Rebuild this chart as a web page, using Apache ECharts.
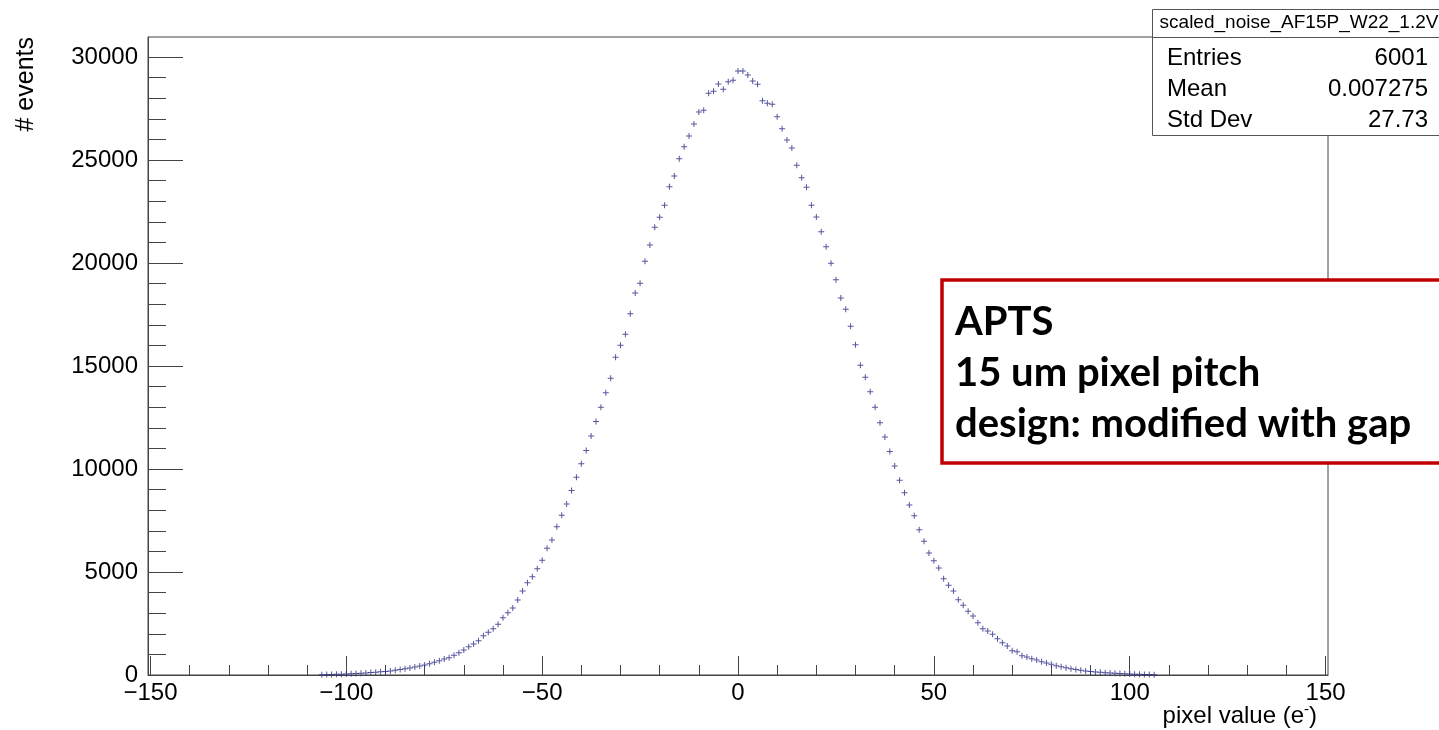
<!DOCTYPE html>
<html>
<head>
<meta charset="utf-8">
<script src="https://cdn.jsdelivr.net/npm/echarts@6/dist/echarts.min.js"></script>
<style>
  html, body { margin: 0; padding: 0; background: #ffffff; }
  #chart { width: 1439px; height: 730px; }
</style>
</head>
<body>
<div id="chart"></div>
<script>
// Histogram: pixel noise distribution, bins of 1.25 e- centred on multiples of 1.25
const histName = 'scaled_noise_AF15P_W22_1.2V';
const binWidth = 1.25;
const firstBinCenter = -106.25;
const counts = [
  15, 20, 25, 32, 40, 50, 60, 72, 85, 100,
  118, 138, 160, 175, 200, 228, 262, 300, 340, 388,
  437, 485, 550, 620, 690, 777, 841, 955, 1084, 1214,
  1375, 1505, 1665, 1909, 2071, 2249, 2459, 2781, 3024, 3252,
  3641, 4077, 4480, 4772, 5160, 5567, 6150, 6553, 7199, 7750,
  8300, 8950, 9600, 10250, 10900, 11600, 12300, 13000, 13700, 14402,
  15421, 16004, 16538, 17538, 18542, 19013, 20081, 20873, 21731, 22216,
  22799, 23703, 24221, 25063, 25645, 26164, 26746, 27328, 27409, 28234,
  28331, 28687, 28429, 28800, 28865,
  29318,
  29318, 29124, 28832, 28671, 27878, 27749, 27700, 27100, 26518, 25969,
  25581, 24741, 24140, 23673, 22799, 22231, 21518, 20790, 19983, 19188,
  18300, 17751, 16926, 16033, 15033, 14450, 13750, 13000, 12250, 11550,
  10850, 10150, 9450, 8850, 8250, 7733, 7053, 6490, 5922, 5548,
  5194, 4675, 4354, 4077, 3655, 3383, 3092, 2864, 2539, 2249,
  2136, 1976, 1762, 1568, 1408, 1180, 1131, 937, 874, 791,
  728, 646, 582, 518, 453, 404, 350, 300, 262, 228,
  198, 170, 150, 130, 112, 96, 82, 70, 58, 48,
  40, 32, 25, 20, 15
];

// Axis ranges and tick marks
const xRange = [-150.625, 150.625];
const yRange = [0, 30970];
const xMajorTicks = [-150, -100, -50, 0, 50, 100, 150];
const xMinorStep = 10;
const yMajorTicks = [0, 5000, 10000, 15000, 20000, 25000, 30000];
const yMinorStep = 1000;

// Statistics box
const statLabels = ['Entries', 'Mean', 'Std Dev'];
const statValues = ['6001', '0.007275', '27.73'];

// Annotation box
const noteLines = ['APTS', '15 um pixel pitch', 'design: modified with gap'];

const xTitle = 'pixel value (e{sup|-})';
const yTitle = '# events';

function minorTicks(majors, step) {
  const out = [];
  const lo = majors[0], hi = majors[majors.length - 1];
  for (let v = lo; v <= hi + 1e-9; v += step) {
    if (!majors.includes(v)) out.push(v);
  }
  return out;
}

const points = counts.map((c, i) => [firstBinCenter + i * binWidth, c]);

const axisColor = '#444444';
const fontMain = '"Liberation Sans", Arial, Helvetica, sans-serif';
const plusMarker = 'path://M2.5,0h1v2.5h2.5v1h-2.5v2.5h-1v-2.5h-2.5v-1h2.5z';

const chart = echarts.init(document.getElementById('chart'), null, { renderer: 'canvas' });

const option = {
  animation: false,
  backgroundColor: '#ffffff',
  grid: {
    left: 148, right: 111, top: 37, bottom: 55,
    show: true, borderColor: axisColor, borderWidth: 1, backgroundColor: 'transparent'
  },
  xAxis: [
    {
      type: 'value', min: xRange[0], max: xRange[1], position: 'bottom',
      axisLine: { show: true, onZero: false, lineStyle: { color: axisColor, width: 1 } },
      axisTick: { show: true, inside: true, length: 19, customValues: xMajorTicks,
                  lineStyle: { color: axisColor, width: 1 } },
      axisLabel: { show: true, customValues: xMajorTicks, margin: 6,
                   formatter: v => String(v).replace('-', '\u2212'),
                   fontSize: 24, color: '#000', fontFamily: fontMain },
      splitLine: { show: false }
    },
    {
      type: 'value', min: xRange[0], max: xRange[1], position: 'bottom',
      axisLine: { show: false, onZero: false },
      axisTick: { show: true, inside: true, length: 10, customValues: minorTicks(xMajorTicks, xMinorStep),
                  lineStyle: { color: axisColor, width: 1 } },
      axisLabel: { show: false },
      splitLine: { show: false }
    }
  ],
  yAxis: [
    {
      type: 'value', min: yRange[0], max: yRange[1], position: 'left',
      axisLine: { show: true, onZero: false, lineStyle: { color: axisColor, width: 1 } },
      axisTick: { show: true, inside: true, length: 35, customValues: yMajorTicks,
                  lineStyle: { color: axisColor, width: 1 } },
      axisLabel: { show: true, customValues: yMajorTicks, margin: 10,
                   formatter: v => String(v),
                   fontSize: 24, color: '#000', fontFamily: fontMain },
      splitLine: { show: false }
    },
    {
      type: 'value', min: yRange[0], max: yRange[1], position: 'left',
      axisLine: { show: false, onZero: false },
      axisTick: { show: true, inside: true, length: 18, customValues: minorTicks(yMajorTicks, yMinorStep),
                  lineStyle: { color: axisColor, width: 1 } },
      axisLabel: { show: false },
      splitLine: { show: false }
    }
  ],
  series: [
    {
      type: 'scatter',
      xAxisIndex: 0, yAxisIndex: 0,
      data: points,
      symbol: plusMarker,
      symbolSize: 6,
      itemStyle: { color: '#2c2c86' },
      silent: true
    }
  ],
  graphic: [
    // y axis title
    {
      type: 'text', x: 26, y: 37, rotation: Math.PI / 2, z: 10,
      style: { text: yTitle, font: '25px ' + fontMain, fill: '#000',
               align: 'right', verticalAlign: 'middle' }
    },
    // x axis title
    {
      type: 'text', x: 1317, y: 716, z: 10,
      style: {
        text: xTitle, font: '24px ' + fontMain, fill: '#000',
        align: 'right', verticalAlign: 'middle',
        rich: { sup: { fontSize: 15, fontFamily: fontMain, verticalAlign: 'top', padding: [0, 0, 12, 0] } }
      }
    },
    // statistics box
    {
      type: 'rect', z: 20, shape: { x: 1152.5, y: 9.5, width: 320, height: 126 },
      style: { fill: '#ffffff', stroke: '#555555', lineWidth: 1 }
    },
    {
      type: 'line', z: 21, shape: { x1: 1152.5, y1: 37.5, x2: 1460, y2: 37.5 },
      style: { stroke: '#555555', lineWidth: 1 }
    },
    {
      type: 'text', z: 22, x: 1299, y: 23,
      style: { text: histName, font: '19px ' + fontMain, fill: '#000', align: 'center', verticalAlign: 'middle' }
    },
    ...statLabels.map((s, i) => ({
      type: 'text', z: 22, x: 1167, y: 58 + i * 31,
      style: { text: s, font: '24px ' + fontMain, fill: '#000', align: 'left', verticalAlign: 'middle' }
    })),
    ...statValues.map((s, i) => ({
      type: 'text', z: 22, x: 1428, y: 58 + i * 31,
      style: { text: s, font: '24px ' + fontMain, fill: '#000', align: 'right', verticalAlign: 'middle' }
    })),
    // annotation box
    {
      type: 'rect', z: 30, shape: { x: 942, y: 280, width: 540, height: 183 },
      style: { fill: '#ffffff', stroke: '#C00000', lineWidth: 3.5 }
    },
    ...noteLines.map((s, i) => ({
      type: 'text', z: 31, x: 955, y: 322 + i * 51,
      style: { text: s, font: 'bold 40px Lato, "Open Sans", sans-serif', fill: '#000',
               align: 'left', verticalAlign: 'middle' }
    }))
  ]
};

chart.setOption(option);
</script>
</body>
</html>
